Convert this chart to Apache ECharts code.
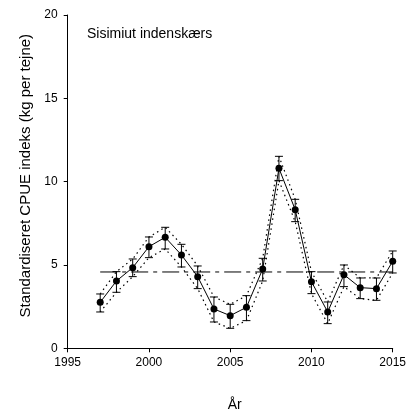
<!DOCTYPE html>
<html>
<head>
<meta charset="utf-8">
<script src="https://cdn.jsdelivr.net/npm/echarts@6/dist/echarts.min.js"></script>
<style>
html,body{margin:0;padding:0;background:#fff;}
#chart{width:408px;height:414px;}
</style>
</head>
<body>
<div id="chart"></div>
<script>
const years = [1997,1998,1999,2000,2001,2002,2003,2004,2005,2006,2007,2008,2009,2010,2011,2012,2013,2014,2015];
const cpue  = [2.76,4.04,4.84,6.10,6.66,5.60,4.30,2.36,1.96,2.46,4.76,10.80,8.32,4.00,2.18,4.42,3.64,3.58,5.22];
const upper = [3.26,4.60,5.36,6.68,7.26,6.24,4.94,3.08,2.64,3.16,5.40,11.52,8.94,4.60,2.78,5.00,4.22,4.22,5.84];
const lower = [2.18,3.36,4.30,5.44,5.96,4.88,3.58,1.58,1.20,1.66,4.04,10.06,7.60,3.28,1.48,3.70,2.98,2.88,4.52];
const meanValue = 4.58;
const meanRange = [1997, 2015];
const titleText = 'Sisimiut indenskærs';
const xName = 'År';
const yName = 'Standardiseret CPUE indeks (kg per tejne)';

const FONT = 'Liberation Sans, Arial, sans-serif';
const chart = echarts.init(document.getElementById('chart'), null, {renderer:'canvas'});

const pts = years.map((y,i)=>[y,cpue[i]]);
const up = years.map((y,i)=>[y,upper[i]]);
const lo = years.map((y,i)=>[y,lower[i]]);
const err = years.map((y,i)=>[y,lower[i],upper[i]]);

chart.setOption({
  animation:false,
  backgroundColor:'#fff',
  title:{
    text:titleText, left:82, top:22,
    textStyle:{fontFamily:FONT,fontSize:14,fontWeight:'normal',color:'#000'}
  },
  grid:{left:67.7,right:15.3,top:15,bottom:65.7,containLabel:false,outerBoundsMode:'none'},
  xAxis:{
    type:'value', min:1995, max:2015, interval:5,
    name:xName, nameLocation:'middle', nameGap:50,
    nameTextStyle:{fontFamily:FONT,fontSize:14,color:'#000',padding:[0,0,0,9]},
    axisLine:{show:true,onZero:false,lineStyle:{color:'#000',width:1}},
    axisTick:{show:true,inside:false,length:4,lineStyle:{color:'#000'}},
    axisLabel:{fontFamily:FONT,fontSize:12,color:'#000',margin:8,formatter:function(v){return String(v);}},
    splitLine:{show:false}
  },
  yAxis:{
    type:'value', min:0, max:20, interval:5,
    name:yName, nameLocation:'middle', nameGap:33, nameRotate:90,
    nameTextStyle:{fontFamily:FONT,fontSize:15,color:'#000',padding:[0,0,0,12]},
    axisLine:{show:true,lineStyle:{color:'#000',width:1}},
    axisTick:{show:true,inside:false,length:4,lineStyle:{color:'#000'}},
    axisLabel:{fontFamily:FONT,fontSize:12,color:'#000',margin:10},
    splitLine:{show:false}
  },
  series:[
    {
      type:'line', data:[[meanRange[0],meanValue],[meanRange[1],meanValue]],
      symbol:'none', silent:true,
      lineStyle:{color:'#000',width:1,type:[17,5,4,5]}, z:1
    },
    {
      type:'line', data:up, symbol:'none',
      lineStyle:{color:'#000',width:1.2,type:[1.5,3.5]}, z:2
    },
    {
      type:'line', data:lo, symbol:'none',
      lineStyle:{color:'#000',width:1.2,type:[1.5,3.5]}, z:2
    },
    {
      type:'custom', data:err, z:3,
      renderItem:function(params, api){
        const x = api.value(0);
        const a = api.coord([x, api.value(1)]);
        const b = api.coord([x, api.value(2)]);
        const w = 4;
        const st = {stroke:'#000', lineWidth:1};
        return {type:'group', children:[
          {type:'line', shape:{x1:a[0],y1:a[1],x2:b[0],y2:b[1]}, style:st},
          {type:'line', shape:{x1:a[0]-w,y1:a[1],x2:a[0]+w,y2:a[1]}, style:st},
          {type:'line', shape:{x1:b[0]-w,y1:b[1],x2:b[0]+w,y2:b[1]}, style:st}
        ]};
      }
    },
    {
      type:'line', data:pts, symbol:'circle', symbolSize:7,
      itemStyle:{color:'#000'},
      lineStyle:{color:'#000',width:1}, z:4
    }
  ]
});
</script>
</body>
</html>
